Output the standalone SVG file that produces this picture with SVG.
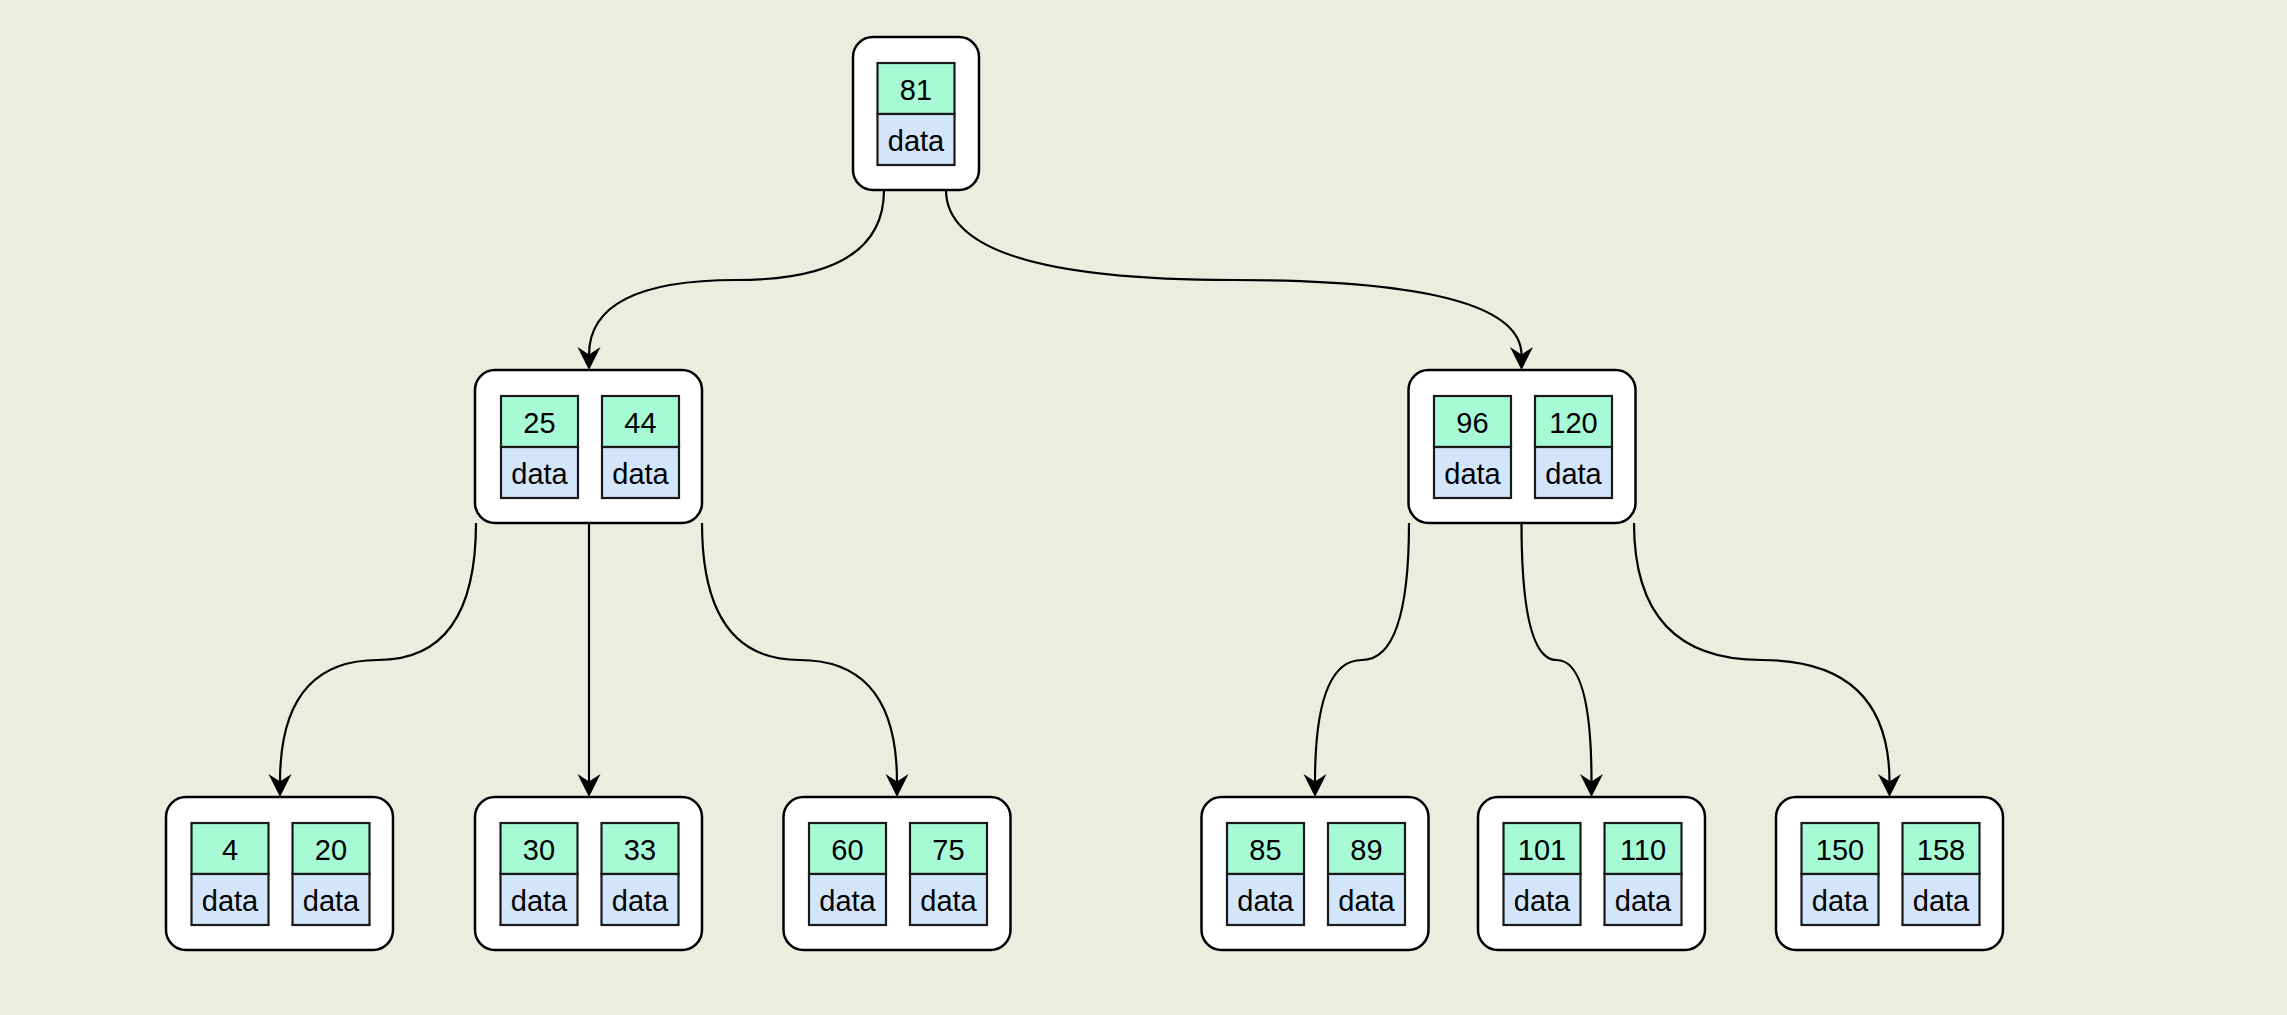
<svg xmlns="http://www.w3.org/2000/svg" width="2287" height="1015" viewBox="0 0 2287 1015">
<style>
.bg{fill:#ecedde}
.box{fill:#ffffff;stroke:#000000;stroke-width:2.5}
.key{fill:#a6fad6;stroke:#1a1a1a;stroke-width:2.2}
.dat{fill:#d2e5fb;stroke:#1a1a1a;stroke-width:2.2}
.t{font-family:"Liberation Sans",Arial,sans-serif;font-size:29px;fill:#000000;text-anchor:middle}
.edge{fill:none;stroke:#000000;stroke-width:2.2}
</style>
<defs>
<marker id="arr" markerUnits="userSpaceOnUse" viewBox="-25 -13 26 26" markerWidth="26" markerHeight="26" refX="-15" refY="0" orient="auto">
<path d="M0,0 L-23,-11.5 L-15.5,0 L-23,11.5 Z" fill="#000000"/>
</marker>
</defs>
<rect class="bg" x="0" y="0" width="2287" height="1015"/>

<g id="connectors">
<path class="edge" marker-end="url(#arr)" d="M884,190 Q884,280 736.5,280 Q589,280 589,355"/>
<path class="edge" marker-end="url(#arr)" d="M946,190 Q946,280 1233.5,280 Q1521.5,280 1521.5,355"/>
<path class="edge" marker-end="url(#arr)" d="M476,523 Q476,660 378,660 Q280,660 280,782"/>
<path class="edge" marker-end="url(#arr)" d="M589,523 L589,782"/>
<path class="edge" marker-end="url(#arr)" d="M702,523 Q702,660 799.5,660 Q897,660 897,782"/>
<path class="edge" marker-end="url(#arr)" d="M1409,523 Q1409,660 1362,660 Q1315,660 1315,782"/>
<path class="edge" marker-end="url(#arr)" d="M1521.5,523 Q1521.5,660 1556.5,660 Q1591.5,660 1591.5,782"/>
<path class="edge" marker-end="url(#arr)" d="M1634,523 Q1634,660 1761.5,660 Q1889.5,660 1889.5,782"/>
</g>

<g id="n81" transform="translate(853,37)">
<rect class="box" x="0" y="0" width="126" height="153" rx="20"/>
<rect class="key" x="24.5" y="26" width="77" height="51"/>
<rect class="dat" x="24.5" y="77" width="77" height="51"/>
<text class="t" x="63" y="63">81</text>
<text class="t" x="63" y="114">data</text>
</g>

<g id="n25_44" transform="translate(475,370)">
<rect class="box" x="0" y="0" width="227" height="153" rx="20"/>
<rect class="key" x="26" y="26" width="77" height="51"/>
<rect class="dat" x="26" y="77" width="77" height="51"/>
<rect class="key" x="127" y="26" width="77" height="51"/>
<rect class="dat" x="127" y="77" width="77" height="51"/>
<text class="t" x="64.5" y="63">25</text>
<text class="t" x="64.5" y="114">data</text>
<text class="t" x="165.5" y="63">44</text>
<text class="t" x="165.5" y="114">data</text>
</g>

<g id="n96_120" transform="translate(1408.5,370)">
<rect class="box" x="0" y="0" width="227" height="153" rx="20"/>
<rect class="key" x="25.5" y="26" width="77" height="51"/>
<rect class="dat" x="25.5" y="77" width="77" height="51"/>
<rect class="key" x="126.5" y="26" width="77" height="51"/>
<rect class="dat" x="126.5" y="77" width="77" height="51"/>
<text class="t" x="64" y="63">96</text>
<text class="t" x="64" y="114">data</text>
<text class="t" x="165" y="63">120</text>
<text class="t" x="165" y="114">data</text>
</g>

<g id="n4_20" transform="translate(166,797)">
<rect class="box" x="0" y="0" width="227" height="153" rx="20"/>
<rect class="key" x="25.5" y="26" width="77" height="51"/>
<rect class="dat" x="25.5" y="77" width="77" height="51"/>
<rect class="key" x="126.5" y="26" width="77" height="51"/>
<rect class="dat" x="126.5" y="77" width="77" height="51"/>
<text class="t" x="64" y="63">4</text>
<text class="t" x="64" y="114">data</text>
<text class="t" x="165" y="63">20</text>
<text class="t" x="165" y="114">data</text>
</g>

<g id="n30_33" transform="translate(475,797)">
<rect class="box" x="0" y="0" width="227" height="153" rx="20"/>
<rect class="key" x="25.5" y="26" width="77" height="51"/>
<rect class="dat" x="25.5" y="77" width="77" height="51"/>
<rect class="key" x="126.5" y="26" width="77" height="51"/>
<rect class="dat" x="126.5" y="77" width="77" height="51"/>
<text class="t" x="64" y="63">30</text>
<text class="t" x="64" y="114">data</text>
<text class="t" x="165" y="63">33</text>
<text class="t" x="165" y="114">data</text>
</g>

<g id="n60_75" transform="translate(783.5,797)">
<rect class="box" x="0" y="0" width="227" height="153" rx="20"/>
<rect class="key" x="25.5" y="26" width="77" height="51"/>
<rect class="dat" x="25.5" y="77" width="77" height="51"/>
<rect class="key" x="126.5" y="26" width="77" height="51"/>
<rect class="dat" x="126.5" y="77" width="77" height="51"/>
<text class="t" x="64" y="63">60</text>
<text class="t" x="64" y="114">data</text>
<text class="t" x="165" y="63">75</text>
<text class="t" x="165" y="114">data</text>
</g>

<g id="n85_89" transform="translate(1201.5,797)">
<rect class="box" x="0" y="0" width="227" height="153" rx="20"/>
<rect class="key" x="25.5" y="26" width="77" height="51"/>
<rect class="dat" x="25.5" y="77" width="77" height="51"/>
<rect class="key" x="126.5" y="26" width="77" height="51"/>
<rect class="dat" x="126.5" y="77" width="77" height="51"/>
<text class="t" x="64" y="63">85</text>
<text class="t" x="64" y="114">data</text>
<text class="t" x="165" y="63">89</text>
<text class="t" x="165" y="114">data</text>
</g>

<g id="n101_110" transform="translate(1478,797)">
<rect class="box" x="0" y="0" width="227" height="153" rx="20"/>
<rect class="key" x="25.5" y="26" width="77" height="51"/>
<rect class="dat" x="25.5" y="77" width="77" height="51"/>
<rect class="key" x="126.5" y="26" width="77" height="51"/>
<rect class="dat" x="126.5" y="77" width="77" height="51"/>
<text class="t" x="64" y="63">101</text>
<text class="t" x="64" y="114">data</text>
<text class="t" x="165" y="63">110</text>
<text class="t" x="165" y="114">data</text>
</g>

<g id="n150_158" transform="translate(1776,797)">
<rect class="box" x="0" y="0" width="227" height="153" rx="20"/>
<rect class="key" x="25.5" y="26" width="77" height="51"/>
<rect class="dat" x="25.5" y="77" width="77" height="51"/>
<rect class="key" x="126.5" y="26" width="77" height="51"/>
<rect class="dat" x="126.5" y="77" width="77" height="51"/>
<text class="t" x="64" y="63">150</text>
<text class="t" x="64" y="114">data</text>
<text class="t" x="165" y="63">158</text>
<text class="t" x="165" y="114">data</text>
</g>
</svg>
